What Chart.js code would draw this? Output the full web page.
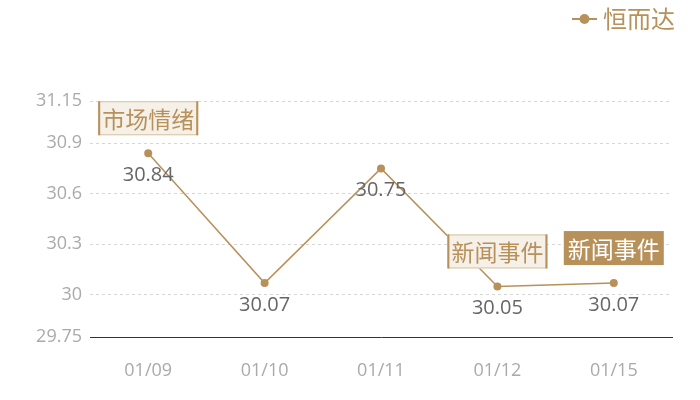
<!DOCTYPE html>
<html lang="zh">
<head>
    <meta charset="UTF-8">
    <title>恒而达</title>
    <script src="https://cdn.jsdelivr.net/npm/chart.js"></script>
    <style>
        body { margin: 0; background: #fff; }
        #wrap { width: 700px; height: 400px; position: relative; }
    </style>
</head>
<body>
    <div id="wrap"><canvas id="chart"></canvas></div>

    <script>
        const categories = ['01/09', '01/10', '01/11', '01/12', '01/15'];
        const prices = [30.84, 30.07, 30.75, 30.05, 30.07];
        const yTicks = [29.75, 30, 30.3, 30.6, 30.9, 31.15];
        const seriesName = '恒而达';
        // annotation per point: [index, text, filled]
        const notes = [[0, '市场情绪', false], [3, '新闻事件', false], [4, '新闻事件', true]];

        const tan = '#b8915a';
        const CJK = '"Noto Sans CJK SC", "Noto Sans", sans-serif';
        const NUM = '"Open Sans", "Noto Sans CJK SC", sans-serif';

        const overlay = {
            id: 'overlay',
            afterDatasetsDraw(chart) {
                const ctx = chart.ctx;
                const x = chart.scales.x, y = chart.scales.y;
                ctx.save();
                ctx.textAlign = 'center';
                ctx.textBaseline = 'middle';

                // value labels under points
                ctx.font = '20px ' + NUM;
                ctx.fillStyle = '#666';
                prices.forEach((v, i) => {
                    ctx.fillText(String(v), x.getPixelForValue(i), y.getPixelForValue(v) + 22);
                });

                // annotation boxes
                ctx.font = '23px ' + CJK;
                notes.forEach(([i, text, filled]) => {
                    const cx = x.getPixelForValue(i);
                    const cy = y.getPixelForValue(prices[i]) - 35;
                    const w = ctx.measureText(text).width + 8;
                    const h = 34;
                    if (filled) {
                        ctx.fillStyle = tan;
                        ctx.fillRect(cx - w / 2, cy - h / 2, w, h);
                        ctx.fillStyle = '#fff';
                    } else {
                        ctx.fillStyle = '#f5f0e8';
                        ctx.fillRect(cx - w / 2, cy - h / 2, w, h);
                        ctx.strokeStyle = '#d8c3a0';
                        ctx.lineWidth = 1;
                        ctx.strokeRect(cx - w / 2 + 0.5, cy - h / 2 + 0.5, w - 1, h - 1);
                        ctx.fillStyle = tan;
                        ctx.fillRect(cx - w / 2, cy - h / 2, 2, h);
                        ctx.fillRect(cx + w / 2 - 2, cy - h / 2, 2, h);
                    }
                    ctx.fillText(text, cx, cy + 1);
                });

                // legend top right
                ctx.strokeStyle = tan;
                ctx.lineWidth = 2;
                ctx.beginPath();
                ctx.moveTo(572, 19);
                ctx.lineTo(597, 19);
                ctx.stroke();
                ctx.fillStyle = tan;
                ctx.beginPath();
                ctx.arc(584.5, 19, 5, 0, Math.PI * 2);
                ctx.fill();
                ctx.textAlign = 'left';
                ctx.font = '24px ' + CJK;
                ctx.fillText(seriesName, 603, 19);
                ctx.restore();
            }
        };

        new Chart(document.getElementById('chart'), {
            type: 'line',
            data: {
                labels: categories,
                datasets: [{
                    label: seriesName,
                    data: prices,
                    borderColor: tan,
                    backgroundColor: tan,
                    borderWidth: 1.5,
                    pointRadius: 4,
                    pointBackgroundColor: tan,
                    pointBorderWidth: 0,
                    tension: 0
                }]
            },
            options: {
                responsive: true,
                maintainAspectRatio: false,
                animation: false,
                layout: { padding: { top: 101, right: 28, left: 0, bottom: 0 } },
                plugins: {
                    legend: { display: false },
                    tooltip: { enabled: false }
                },
                scales: {
                    x: {
                        offset: true,
                        grid: { display: false, drawTicks: false },
                        border: { color: '#333', width: 1 },
                        ticks: { color: '#aaa', font: { size: 18, family: NUM }, padding: 23 },
                        afterFit(s) { s.height = 63; }
                    },
                    y: {
                        min: 29.75,
                        max: 31.15,
                        afterBuildTicks(s) { s.ticks = yTicks.map(v => ({ value: v })); },
                        grid: { color: '#d6d6d6', drawTicks: false },
                        border: { display: false, dash: [3, 3] },
                        ticks: {
                            color: '#aaa',
                            font: { size: 18, family: NUM },
                            padding: 8,
                            callback: v => String(v)
                        },
                        afterFit(s) { s.width = 90; }
                    }
                }
            },
            plugins: [overlay]
        });
    </script>
</body>
</html>
